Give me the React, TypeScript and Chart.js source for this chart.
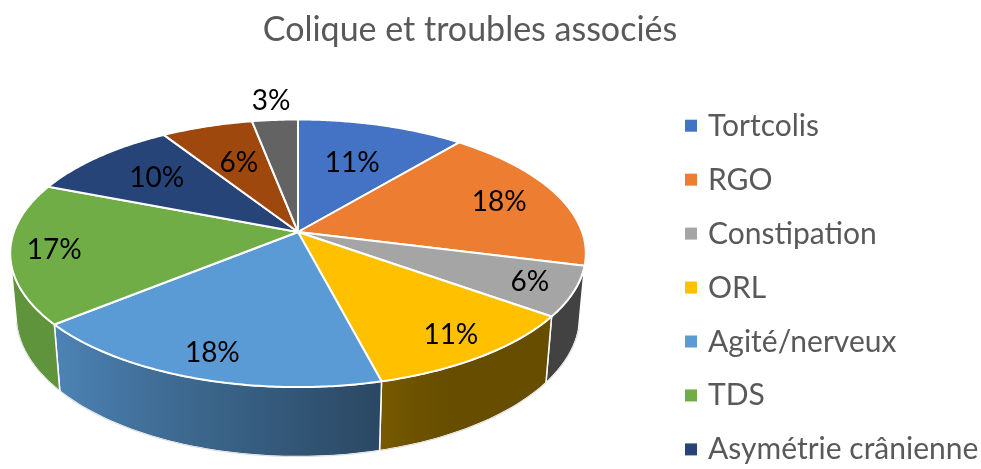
import React, { useEffect, useRef } from 'react';
import { Chart, registerables } from 'chart.js';

Chart.register(...registerables);

const TITLE = 'Colique et troubles associés';
const categories = [
  'Tortcolis',
  'RGO',
  'Constipation',
  'ORL',
  'Agité/nerveux',
  'TDS',
  'Asymétrie crânienne',
  'Autres',
  'Divers',
];
const values = [11, 18, 6, 11, 18, 17, 10, 6, 3];
const colors = ['#4472C4', '#ED7D31', '#A5A5A5', '#FFC000', '#5B9BD5', '#70AD47', '#264478', '#9E480E', '#636363'];

const FONT = 'Lato, "Open Sans", sans-serif';
const TEXT_COLOR = '#595959';

// 3D view parameters (tilt, perspective distance, thickness)
const SIN_A = 0.459;
const COS_A = 0.888;
const DIST = 5.58;
const DEPTH = 0.25;
const SCALE_K = 1.23;

function hexRgb(h: string) {
  const n = parseInt(h.slice(1), 16);
  return [(n >> 16) & 255, (n >> 8) & 255, n & 255];
}
function shadeColor(h: string, f: number) {
  const [r, g, b] = hexRgb(h);
  return `rgb(${Math.round(r * f)},${Math.round(g * f)},${Math.round(b * f)})`;
}
// wall lighting as a function of angle (degrees clockwise from top)
function wallShade(thetaDeg: number) {
  const v = 0.4 + ((thetaDeg - 155) / 75) * 0.46;
  return Math.max(0.4, Math.min(0.85, v));
}

const pie3d = {
  id: 'pie3d',
  beforeDatasetsDraw(chart: any) {
    const meta = chart.getDatasetMeta(0);
    const arcs = meta.data;
    if (!arcs.length) return false;
    const ctx = chart.ctx as CanvasRenderingContext2D;
    const cx = arcs[0].x;
    const cy = arcs[0].y;
    const s = arcs[0].outerRadius * SCALE_K;
    const P = (x: number, z: number, y: number): [number, number] => {
      const v = z * SIN_A + y * COS_A;
      const w = -z * COS_A + y * SIN_A;
      const f = DIST / (DIST + w);
      return [cx + s * x * f, cy + s * v * f];
    };
    const rim = (phi: number, y: number) => P(Math.cos(phi), Math.sin(phi), y);

    const visMin = Math.asin(1 / (DIST * COS_A));
    const visMax = Math.PI - visMin;

    ctx.save();
    ctx.lineJoin = 'round';
    // side walls
    arcs.forEach((arc: any, i: number) => {
      const lo = Math.max(arc.startAngle, visMin);
      const hi = Math.min(arc.endAngle, visMax);
      if (hi <= lo) return;
      const n = Math.max(8, Math.ceil((hi - lo) / 0.02));
      const top: [number, number][] = [];
      const bot: [number, number][] = [];
      for (let k = 0; k <= n; k++) {
        const phi = lo + ((hi - lo) * k) / n;
        top.push(rim(phi, 0));
        bot.push(rim(phi, DEPTH));
      }
      const x0 = top[0][0];
      const x1 = top[n][0];
      const grad = ctx.createLinearGradient(x0, 0, x1, 0);
      const base = colors[i % colors.length];
      for (let k = 0; k <= 6; k++) {
        const phi = lo + ((hi - lo) * k) / 6;
        const px = rim(phi, 0)[0];
        let t = x1 === x0 ? 0 : (px - x0) / (x1 - x0);
        t = Math.max(0, Math.min(1, t));
        const thetaDeg = ((phi + Math.PI / 2) * 180) / Math.PI;
        grad.addColorStop(t, shadeColor(base, wallShade(thetaDeg)));
      }
      ctx.beginPath();
      top.forEach((p, k) => (k ? ctx.lineTo(p[0], p[1]) : ctx.moveTo(p[0], p[1])));
      for (let k = n; k >= 0; k--) ctx.lineTo(bot[k][0], bot[k][1]);
      ctx.closePath();
      ctx.fillStyle = grad;
      ctx.fill();
      ctx.strokeStyle = '#ffffff';
      ctx.lineWidth = 1.5;
      ctx.stroke();
      ctx.beginPath();
      bot.forEach((p, k) => (k ? ctx.lineTo(p[0], p[1]) : ctx.moveTo(p[0], p[1])));
      ctx.strokeStyle = '#dcdcdc';
      ctx.lineWidth = 1;
      ctx.stroke();
    });

    // top faces
    arcs.forEach((arc: any, i: number) => {
      const st = arc.startAngle;
      const en = arc.endAngle;
      const n = Math.max(4, Math.ceil((en - st) / 0.01));
      ctx.beginPath();
      const c = P(0, 0, 0);
      ctx.moveTo(c[0], c[1]);
      for (let k = 0; k <= n; k++) {
        const p = rim(st + ((en - st) * k) / n, 0);
        ctx.lineTo(p[0], p[1]);
      }
      ctx.closePath();
      ctx.fillStyle = colors[i % colors.length];
      ctx.fill();
      ctx.strokeStyle = '#ffffff';
      ctx.lineWidth = 2;
      ctx.stroke();
    });

    // data labels
    const total = values.reduce((a, b) => a + b, 0);
    ctx.fillStyle = '#000000';
    ctx.font = `28px ${FONT}`;
    ctx.textAlign = 'center';
    ctx.textBaseline = 'middle';
    arcs.forEach((arc: any, i: number) => {
      const frac = values[i] / total;
      const mid = (arc.startAngle + arc.endAngle) / 2;
      const z = Math.sin(mid);
      let k = z >= 0 ? 0.85 : 0.85 + 0.25 * z;
      if (frac < 0.05) k = 1.2;
      const p = P(k * Math.cos(mid), k * Math.sin(mid), 0);
      ctx.fillText(`${Math.round(frac * 100)}%`, p[0], p[1]);
    });
    ctx.restore();
    return false;
  },
  afterDraw(chart: any) {
    const ctx = chart.ctx as CanvasRenderingContext2D;
    ctx.save();
    // title
    ctx.fillStyle = TEXT_COLOR;
    ctx.font = `34px ${FONT}`;
    ctx.textAlign = 'center';
    ctx.textBaseline = 'alphabetic';
    ctx.fillText(TITLE, 470, 41);
    // legend
    const labels: string[] = chart.data.labels;
    const bg: string[] = chart.data.datasets[0].backgroundColor;
    ctx.font = `30px ${FONT}`;
    ctx.textAlign = 'left';
    labels.forEach((lab, i) => {
      const base = 135.7 + i * 53.95;
      ctx.fillStyle = bg[i];
      ctx.fillRect(685, base - 16, 12, 12);
      ctx.fillStyle = TEXT_COLOR;
      ctx.fillText(lab, 708, base);
    });
    ctx.restore();
  },
};

export default function App() {
  const ref = useRef<HTMLCanvasElement>(null);
  useEffect(() => {
    document.body.style.margin = '0';
    const chart = new Chart(ref.current as HTMLCanvasElement, {
      type: 'pie',
      data: {
        labels: categories,
        datasets: [{ data: values, backgroundColor: colors, borderColor: '#ffffff', borderWidth: 2 }],
      },
      options: {
        responsive: false,
        animation: false,
        layout: { padding: { left: 0, right: 385, top: 0, bottom: 5 } },
        plugins: { legend: { display: false }, title: { display: false }, tooltip: { enabled: false } },
      },
      plugins: [pie3d],
    } as any);
    return () => chart.destroy();
  }, []);
  return (
    <div style={{ width: 981, height: 469, overflow: 'hidden', background: '#ffffff' }}>
      <canvas ref={ref} width={981} height={469} style={{ display: 'block' }} />
    </div>
  );
}
